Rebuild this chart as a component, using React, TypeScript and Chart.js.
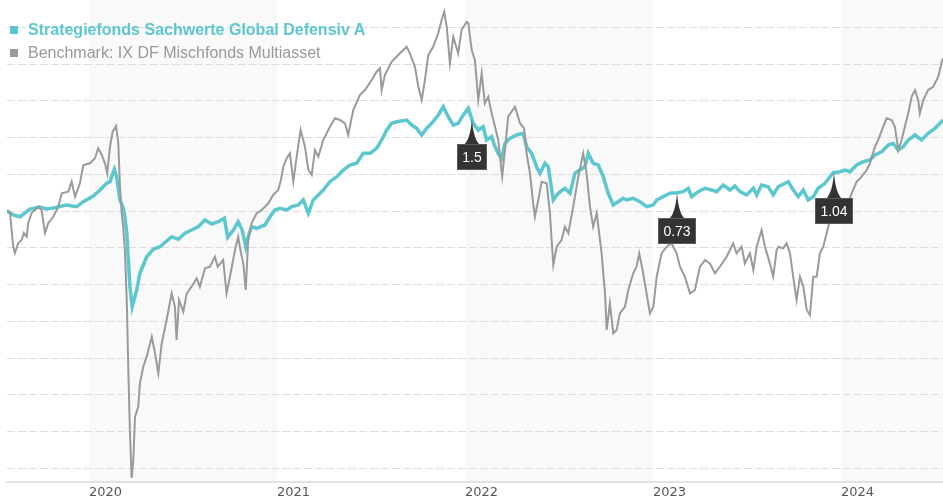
import React, { useEffect, useRef } from 'react';
import { Chart, registerables } from 'chart.js';

Chart.register(...registerables);

const FUND_NAME = 'Strategiefonds Sachwerte Global Defensiv A';
const BENCH_NAME = 'Benchmark: IX DF Mischfonds Multiasset';
const FUND_COLOR = '#5cc7ce';
const BENCH_COLOR = '#9a9a9a';

const yearTicks = [2020, 2021, 2022, 2023, 2024];
const shadedYears = [2020, 2022, 2024];
const xMin = 2019.564;
const xMax = 2024.543;
const yMin = -36.87;
const yMax = 28.71;
const gridValues = [-35, -30, -25, -20, -15, -10, -5, 0, 5, 10, 15, 20, 25];

const markerYears = [2022.037, 2023.128, 2023.963];
const markerLabels = ['1.5', '0.73', '1.04'];

const fundYears = [
  2019.565, 2019.597, 2019.633, 2019.686, 2019.739, 2019.775, 2019.81, 2019.881, 2019.935, 2019.97,
  2020.023, 2020.059, 2020.094, 2020.112, 2020.135, 2020.147, 2020.165, 2020.182, 2020.191, 2020.201,
  2020.218, 2020.23, 2020.254, 2020.271, 2020.307, 2020.342, 2020.378, 2020.44, 2020.475, 2020.511,
  2020.546, 2020.581, 2020.617, 2020.653, 2020.688, 2020.72, 2020.738, 2020.768, 2020.794, 2020.815,
  2020.834, 2020.847, 2020.865, 2020.892, 2020.936, 2020.963, 2020.989, 2021.016, 2021.052, 2021.078,
  2021.113, 2021.14, 2021.167, 2021.193, 2021.211, 2021.246, 2021.282, 2021.318, 2021.353, 2021.388,
  2021.424, 2021.459, 2021.495, 2021.53, 2021.557, 2021.584, 2021.61, 2021.637, 2021.69, 2021.717,
  2021.743, 2021.77, 2021.796, 2021.823, 2021.858, 2021.885, 2021.911, 2021.938, 2021.964, 2021.991,
  2022.018, 2022.044, 2022.071, 2022.097, 2022.115, 2022.142, 2022.16, 2022.177, 2022.195, 2022.213,
  2022.239, 2022.275, 2022.31, 2022.328, 2022.355, 2022.381, 2022.399, 2022.426, 2022.443, 2022.47,
  2022.496, 2022.532, 2022.559, 2022.585, 2022.612, 2022.638, 2022.656, 2022.682, 2022.709, 2022.736,
  2022.762, 2022.789, 2022.815, 2022.842, 2022.86, 2022.895, 2022.931, 2022.966, 2023.002, 2023.02,
  2023.055, 2023.09, 2023.126, 2023.161, 2023.188, 2023.206, 2023.241, 2023.277, 2023.312, 2023.339,
  2023.374, 2023.41, 2023.436, 2023.463, 2023.498, 2023.534, 2023.552, 2023.578, 2023.613, 2023.64,
  2023.667, 2023.685, 2023.72, 2023.746, 2023.773, 2023.8, 2023.826, 2023.853, 2023.879, 2023.915,
  2023.959, 2023.995, 2024.021, 2024.048, 2024.084, 2024.119, 2024.154, 2024.181, 2024.217, 2024.252,
  2024.278, 2024.305, 2024.331, 2024.358, 2024.394, 2024.429, 2024.464, 2024.5, 2024.527, 2024.543,
];

const fundValues = [
  0.0, -0.54, -0.78, 0.27, 0.54, 0.27, 0.41, 0.82, 0.59, 1.27,
  2.04, 2.86, 3.77, 3.99, 5.67, 4.67, 1.5, 0.41, -0.78, -2.99,
  -10.3, -13.02, -10.75, -8.48, -6.22, -5.21, -4.86, -3.5, -3.85, -3.03,
  -2.59, -2.14, -1.22, -1.77, -1.46, -0.99, -3.58, -2.59, -1.46, -2.59,
  -4.86, -3.5, -2.14, -2.35, -1.9, -0.78, 0.14, 0.37, 0.14, 0.59,
  0.82, 1.5, -0.31, 1.5, 1.95, 2.86, 3.99, 4.67, 5.58, 6.26,
  6.49, 7.85, 7.85, 8.53, 9.66, 11.02, 11.93, 12.15, 12.38, 11.7,
  11.25, 10.34, 11.25, 11.93, 13.06, 14.19, 12.83, 11.7, 11.93, 13.06,
  13.97, 11.93, 11.02, 11.47, 9.66, 10.11, 8.75, 7.85, 7.17, 9.21,
  9.89, 10.34, 10.57, 8.75, 7.85, 6.03, 5.13, 6.49, 6.03, 1.5,
  2.41, 3.09, 2.41, 5.13, 5.58, 6.03, 7.85, 6.49, 6.26, 4.67,
  2.41, 0.82, 1.27, 1.73, 1.5, 1.73, 1.27, 0.59, 0.82, 1.5,
  1.95, 2.41, 2.49, 2.63, 3.09, 1.95, 2.63, 3.09, 2.86, 2.63,
  3.54, 2.86, 3.4, 2.63, 2.18, 3.09, 2.18, 3.54, 3.31, 2.18,
  3.31, 3.54, 3.99, 2.86, 1.95, 2.86, 1.5, 1.95, 3.09, 3.77,
  5.21, 5.35, 5.58, 5.35, 6.26, 6.71, 6.94, 7.62, 8.07, 8.98,
  9.21, 8.3, 8.75, 9.66, 10.34, 9.66, 10.57, 11.25, 11.93, 12.38,
];

const benchYears = [
  2019.565, 2019.58, 2019.597, 2019.606, 2019.624, 2019.642, 2019.654, 2019.669, 2019.677, 2019.695,
  2019.73, 2019.748, 2019.766, 2019.784, 2019.81, 2019.837, 2019.855, 2019.89, 2019.908, 2019.926,
  2019.952, 2019.97, 2020.005, 2020.032, 2020.049, 2020.068, 2020.085, 2020.097, 2020.112, 2020.126,
  2020.144, 2020.156, 2020.165, 2020.174, 2020.182, 2020.191, 2020.201, 2020.209, 2020.218, 2020.227,
  2020.236, 2020.245, 2020.262, 2020.271, 2020.289, 2020.307, 2020.334, 2020.351, 2020.369, 2020.387,
  2020.413, 2020.44, 2020.457, 2020.466, 2020.479, 2020.502, 2020.52, 2020.546, 2020.573, 2020.59,
  2020.617, 2020.644, 2020.67, 2020.685, 2020.714, 2020.732, 2020.75, 2020.777, 2020.794, 2020.809,
  2020.821, 2020.834, 2020.847, 2020.865, 2020.892, 2020.919, 2020.954, 2020.98, 2021.007, 2021.021,
  2021.034, 2021.052, 2021.069, 2021.087, 2021.105, 2021.126, 2021.149, 2021.167, 2021.185, 2021.202,
  2021.22, 2021.246, 2021.282, 2021.309, 2021.335, 2021.362, 2021.379, 2021.406, 2021.441, 2021.468,
  2021.504, 2021.53, 2021.548, 2021.557, 2021.574, 2021.61, 2021.645, 2021.69, 2021.707, 2021.734,
  2021.752, 2021.77, 2021.787, 2021.805, 2021.831, 2021.858, 2021.876, 2021.89, 2021.903, 2021.92,
  2021.938, 2021.964, 2021.982, 2022.009, 2022.018, 2022.036, 2022.053, 2022.071, 2022.089, 2022.106,
  2022.124, 2022.142, 2022.16, 2022.177, 2022.198, 2022.213, 2022.23, 2022.266, 2022.293, 2022.315,
  2022.328, 2022.346, 2022.363, 2022.372, 2022.39, 2022.408, 2022.435, 2022.452, 2022.47, 2022.488,
  2022.514, 2022.532, 2022.55, 2022.576, 2022.603, 2022.629, 2022.647, 2022.665, 2022.682, 2022.701,
  2022.727, 2022.745, 2022.754, 2022.771, 2022.789, 2022.807, 2022.824, 2022.851, 2022.869, 2022.895,
  2022.913, 2022.927, 2022.945, 2022.963, 2022.984, 2023.002, 2023.02, 2023.046, 2023.073, 2023.099,
  2023.126, 2023.144, 2023.17, 2023.197, 2023.223, 2023.25, 2023.277, 2023.303, 2023.33, 2023.356,
  2023.392, 2023.427, 2023.445, 2023.472, 2023.489, 2023.516, 2023.534, 2023.552, 2023.578, 2023.596,
  2023.622, 2023.64, 2023.658, 2023.667, 2023.693, 2023.711, 2023.729, 2023.746, 2023.764, 2023.782,
  2023.8, 2023.818, 2023.835, 2023.853, 2023.871, 2023.888, 2023.906, 2023.924, 2023.941, 2023.968,
  2024.004, 2024.03, 2024.057, 2024.084, 2024.11, 2024.137, 2024.154, 2024.181, 2024.198, 2024.225,
  2024.243, 2024.27, 2024.287, 2024.305, 2024.323, 2024.34, 2024.358, 2024.376, 2024.394, 2024.411,
  2024.42, 2024.438, 2024.464, 2024.491, 2024.518, 2024.536, 2024.543,
];

const benchValues = [
  0.14, -0.27, -4.86, -5.71, -4.35, -3.95, -2.99, -3.5, -1.63, -0.27,
  0.59, 0.14, -2.99, -1.63, -0.78, 0.59, 2.41, 2.63, 3.99, 1.95,
  3.77, 6.26, 6.49, 7.17, 8.53, 7.62, 6.49, 5.13, 8.75, 10.79,
  11.56, 9.21, 3.31, -0.27, -2.14, -5.31, -12.11, -21.18, -30.2, -36.33,
  -33.88, -27.99, -26.63, -23.44, -21.18, -19.82, -17.1, -19.32, -22.08, -18.0,
  -14.83, -11.2, -13.02, -17.55, -12.11, -13.7, -11.2, -10.3, -9.16, -10.3,
  -7.8, -7.58, -6.22, -7.58, -6.67, -11.2, -8.94, -5.31, -3.5, -5.76,
  -7.12, -10.75, -3.95, -1.67, -0.31, 0.14, 1.05, 2.18, 2.86, 4.22,
  6.03, 7.17, 7.85, 3.99, 7.39, 11.02, 8.75, 5.58, 4.9, 8.3,
  7.39, 9.66, 11.47, 12.61, 12.38, 11.93, 10.34, 13.74, 15.78, 16.46,
  17.82, 18.95, 19.41, 16.46, 18.5, 20.31, 21.22, 22.35, 21.46, 19.63,
  16.91, 15.1, 17.82, 21.22, 22.35, 24.18, 25.99, 27.12, 25.07, 20.1,
  23.71, 21.46, 24.63, 25.75, 25.54, 21.9, 20.54, 15.1, 18.73, 14.65,
  15.55, 13.29, 11.47, 9.66, 4.67, 8.3, 12.83, 14.19, 11.93, 11.25,
  7.85, 5.13, 1.05, -0.78, 1.5, 3.99, 3.77, -0.31, -7.35, -4.86,
  -3.95, -2.14, -3.03, 0.59, 4.67, 7.85, 5.13, 0.59, -2.14, -0.31,
  -5.76, -11.2, -16.19, -12.56, -16.64, -16.19, -13.92, -13.02, -10.75, -8.48,
  -7.58, -5.76, -8.03, -10.75, -13.92, -13.02, -8.94, -5.76, -4.86, -4.39,
  -5.76, -7.58, -8.94, -11.2, -10.75, -7.58, -6.67, -7.12, -8.48, -7.58,
  -6.22, -4.39, -5.76, -4.86, -7.12, -5.76, -8.03, -4.86, -2.59, -4.86,
  -7.12, -8.94, -5.31, -4.86, -5.07, -4.39, -5.76, -8.94, -12.11, -8.94,
  -10.3, -13.47, -14.15, -8.94, -8.94, -5.76, -4.86, -3.03, -1.22, -0.31,
  0.14, 0.59, 2.41, 3.99, 4.67, 5.58, 6.49, 8.75, 9.66, 11.47,
  12.61, 12.38, 11.47, 8.3, 9.66, 11.47, 13.29, 15.55, 16.46, 15.1,
  13.29, 15.1, 16.46, 16.91, 18.27, 20.31, 20.78,
];

function interpolate(xs: number[], ys: number[], x: number): number {
  for (let i = 1; i < xs.length; i++) {
    if (xs[i] >= x) {
      const t = (x - xs[i - 1]) / (xs[i] - xs[i - 1]);
      return ys[i - 1] + t * (ys[i] - ys[i - 1]);
    }
  }
  return ys[ys.length - 1];
}

const bandsPlugin = {
  id: 'yearBands',
  beforeDraw(chart: any) {
    const { ctx, chartArea, scales } = chart;
    const x = scales.x;
    ctx.save();
    ctx.fillStyle = '#f9f9f9';
    shadedYears.forEach((yr) => {
      const x0 = Math.max(chartArea.left, x.getPixelForValue(yr));
      const x1 = Math.min(chartArea.right, x.getPixelForValue(yr + 1));
      if (x1 > x0) ctx.fillRect(x0, chartArea.top, x1 - x0, chartArea.bottom - chartArea.top);
    });
    ctx.restore();
  },
};

const markersPlugin = {
  id: 'flagMarkers',
  afterDatasetsDraw(chart: any) {
    const { ctx, scales } = chart;
    const x = scales.x;
    const y = scales.y;
    ctx.save();
    ctx.font = '14px "Liberation Sans", Arial, sans-serif';
    markerYears.forEach((yr, i) => {
      const v = interpolate(fundYears, fundValues, yr);
      const px = x.getPixelForValue(yr);
      const py = y.getPixelForValue(v);
      const label = markerLabels[i];
      const tw = ctx.measureText(label).width;
      const w = Math.round(tw + 11);
      const h = 26;
      const bx = Math.round(px - w / 2);
      const by = Math.round(py + 25);
      ctx.fillStyle = '#333333';
      ctx.beginPath();
      ctx.moveTo(px, py);
      ctx.quadraticCurveTo(px + 1.5, by - 5, px + 8, by + 1);
      ctx.lineTo(px - 8, by + 1);
      ctx.quadraticCurveTo(px - 1.5, by - 5, px, py);
      ctx.closePath();
      ctx.fill();
      ctx.fillRect(bx, by, w, h);
      ctx.strokeStyle = 'rgba(255,255,255,0.2)';
      ctx.lineWidth = 1;
      ctx.strokeRect(bx + 0.5, by + 0.5, w - 1, h - 1);
      ctx.fillStyle = '#ffffff';
      ctx.textAlign = 'center';
      ctx.textBaseline = 'middle';
      ctx.fillText(label, bx + w / 2, by + h / 2 + 1);
    });
    ctx.restore();
  },
};

export default function App() {
  const canvasRef = useRef<HTMLCanvasElement | null>(null);

  useEffect(() => {
    const canvas = canvasRef.current;
    if (!canvas) return;
    const chart = new Chart(canvas, {
      type: 'line',
      data: {
        datasets: [
          {
            label: FUND_NAME,
            data: fundYears.map((yr, i) => ({ x: yr, y: fundValues[i] })),
            borderColor: FUND_COLOR,
            borderWidth: 3.5,
            pointRadius: 0,
            tension: 0,
            order: 2,
          },
          {
            label: BENCH_NAME,
            data: benchYears.map((yr, i) => ({ x: yr, y: benchValues[i] })),
            borderColor: BENCH_COLOR,
            borderWidth: 2,
            pointRadius: 0,
            tension: 0,
            order: 1,
          },
        ],
      },
      options: {
        animation: false,
        responsive: false,
        events: [],
        layout: { padding: { left: 7, right: 0, top: 0, bottom: 0 } },
        plugins: {
          legend: { display: false },
          tooltip: { enabled: false },
        },
        scales: {
          x: {
            type: 'linear',
            min: xMin,
            max: xMax,
            afterBuildTicks: (s: any) => {
              s.ticks = yearTicks.map((v) => ({ value: v }));
            },
            afterFit: (s: any) => {
              s.height = 18;
            },
            grid: { display: false, drawTicks: false },
            border: { display: true, color: '#e2e2e2', width: 2 },
            ticks: {
              align: 'start',
              padding: 3,
              maxRotation: 0,
              autoSkip: false,
              color: '#555555',
              font: { family: '"DejaVu Sans", Verdana, sans-serif', size: 13 },
              callback: (v: any) => String(v),
            },
          },
          y: {
            type: 'linear',
            min: yMin,
            max: yMax,
            afterBuildTicks: (s: any) => {
              s.ticks = gridValues.map((v) => ({ value: v }));
            },
            afterFit: (s: any) => {
              s.width = 0;
            },
            border: { display: false, dash: [8, 3] },
            grid: { color: '#dedede', lineWidth: 1, drawTicks: false },
            ticks: { display: false },
          },
        },
      },
      plugins: [bandsPlugin, markersPlugin],
    } as any);
    return () => chart.destroy();
  }, []);

  const legendText: React.CSSProperties = {
    position: 'absolute',
    left: 28,
    fontFamily: '"Liberation Sans", Arial, sans-serif',
    fontSize: 16,
    lineHeight: '18px',
    whiteSpace: 'nowrap',
  };
  const square: React.CSSProperties = { position: 'absolute', left: 10, width: 8, height: 8 };

  return (
    <div style={{ position: 'fixed', left: 0, top: 0, width: 943, height: 500, background: '#ffffff' }}>
      <canvas ref={canvasRef} width={943} height={500} style={{ display: 'block' }} />
      <div style={{ ...square, top: 26, background: FUND_COLOR }} />
      <div style={{ ...legendText, top: 21, color: FUND_COLOR, fontWeight: 'bold' }}>{FUND_NAME}</div>
      <div style={{ ...square, top: 49, background: '#999999' }} />
      <div style={{ ...legendText, top: 44, color: '#999999' }}>{BENCH_NAME}</div>
    </div>
  );
}
